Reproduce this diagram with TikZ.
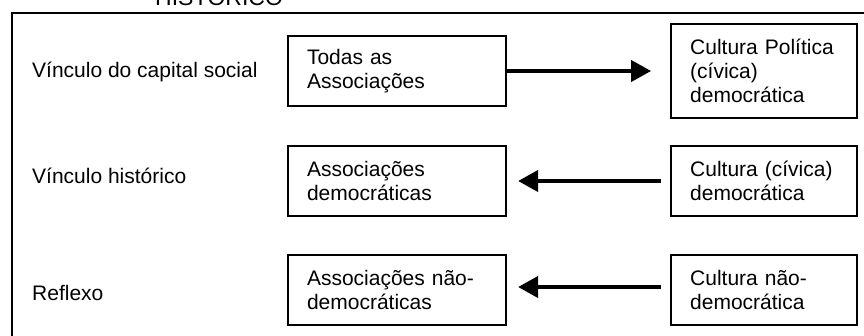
\documentclass[tikz,border=0pt]{standalone}
\usepackage{fontspec}
\setmainfont{Liberation Sans}
\usetikzlibrary{positioning,arrows.meta}
\begin{document}
\begin{tikzpicture}[x=1pt,y=-1pt,
	txt/.style={font=\fontsize{21}{24}\selectfont},
	lbl/.style={txt,anchor=base west,inner sep=0pt},
	assoc/.style={txt,draw,line width=2.2pt,text width=180pt,align=left,inner xsep=19pt,inner ysep=0pt,minimum height=70pt},
	cult/.style={assoc,text width=148pt},
	seta/.style={line width=4pt,-{Triangle[length=20pt,width=21pt]}}]
	\useasboundingbox (0,0) rectangle (864,335);
	\clip (0,0) rectangle (864,335);
	% moldura e titulo cortado
	\node[anchor=base west,inner sep=0pt,font=\fontsize{23}{26}\selectfont] (titulo) at (155,5) {HISTÓRICO};
	\draw[line width=2pt] (12,13) rectangle (880,350);
	% linhas
	\node[lbl] (vcap) at (32,77) {Vínculo do capital social};
	\node[lbl] (vhist) at (32,183) {Vínculo histórico};
	\node[lbl] (refl) at (32,300) {Reflexo};
	\node[assoc] (todas) at (397,71) {Todas as\\Associações};
	\node[cult,minimum height=94pt,right=163pt of todas] (cpol) {Cultura Política\\(cívica)\\democrática};
	\node[assoc] (assdem) at (397,181) {Associações\\democráticas};
	\node[cult,right=163pt of assdem] (cdem) {Cultura (cívica)\\democrática};
	\node[assoc] (assnao) at (397,290) {Associações não-\\democráticas};
	\node[cult,right=163pt of assnao] (cnao) {Cultura não-\\democrática};
	% setas
	\draw[seta,shorten >=19pt] (todas) -- (cpol);
	\draw[seta,shorten >=11pt,shorten <=9pt] (cdem) -- (assdem);
	\draw[seta,shorten >=11pt,shorten <=9pt] ([yshift=3pt]cnao.west) -- ([yshift=3pt]assnao.east);
\end{tikzpicture}
\end{document}
